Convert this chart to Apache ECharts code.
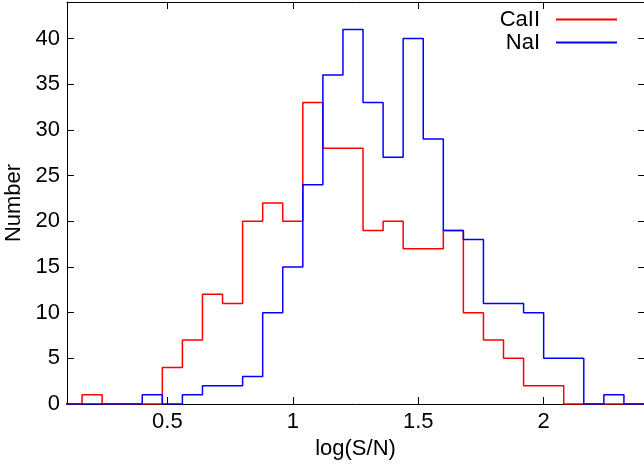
<!DOCTYPE html>
<html>
<head>
<meta charset="utf-8">
<script src="https://cdn.jsdelivr.net/npm/echarts@6/dist/echarts.min.js"></script>
<style>
  html, body { margin: 0; padding: 0; background: #fff; }
  #chart { width: 644px; height: 464px; }
</style>
</head>
<body>
<div id="chart"></div>
<script>
// Histogram bin edges in log(S/N) (30 edges -> 29 bins)
const binEdges = [0.08, 0.16, 0.24, 0.32, 0.40, 0.48, 0.56, 0.64, 0.72, 0.80,
                  0.88, 0.96, 1.04, 1.12, 1.20, 1.28, 1.36, 1.44, 1.52, 1.60,
                  1.68, 1.76, 1.84, 1.92, 2.00, 2.08, 2.16, 2.24, 2.32, 2.40];

// Counts per bin
const caIICounts = [0, 1, 0, 0, 0, 4, 7, 12, 11, 20,
                    22, 20, 33, 28, 28, 19, 20, 17, 17, 19,
                    10, 7, 5, 2, 2, 0, 0, 0, 0];
const naICounts  = [0, 0, 0, 0, 1, 0, 1, 2, 2, 3,
                    10, 15, 24, 36, 41, 33, 27, 40, 29, 19,
                    18, 11, 11, 10, 5, 5, 0, 1, 0];

const xTicks = [0.5, 1, 1.5, 2];
const yTicks = [0, 5, 10, 15, 20, 25, 30, 35, 40];

const seriesNames = ['CaII', 'NaI'];
const seriesColors = ['#ff0000', '#0000ff'];

// Step outline: each bin's left edge carries its count, the last right edge closes it
function stepPoints(counts) {
  const pts = counts.map((c, i) => [binEdges[i], c]);
  pts.push([binEdges[counts.length], counts[counts.length - 1]]);
  return pts;
}

const FONT = 'Liberation Sans, Arial, Helvetica, sans-serif';
const FS = 22;

const chart = echarts.init(document.getElementById('chart'), null, { renderer: 'canvas' });

const frameAxisLine = { show: true, onZero: false, lineStyle: { color: '#000', width: 1 } };
const tickStyle = { inside: true, length: 7, lineStyle: { color: '#000', width: 1 } };

chart.setOption({
  animation: false,
  backgroundColor: '#fff',
  grid: { left: 67, right: 0, top: 2, bottom: 60, containLabel: false, outerBoundsMode: 'none' },
  legend: {
    orient: 'vertical',
    right: 27,
    top: 8,
    padding: 0,
    align: 'right',
    itemGap: 0,
    itemWidth: 61,
    itemHeight: 2,
    icon: 'rect',
    selectedMode: false,
    textStyle: { fontFamily: FONT, fontSize: FS, color: '#000', lineHeight: 23, padding: [0, 11, 0, 0] },
    data: seriesNames
  },
  xAxis: [
    {
      type: 'value', min: 0.1, max: 2.4, position: 'bottom',
      name: 'log(S/N)', nameLocation: 'middle', nameGap: 27,
      nameTextStyle: { fontFamily: FONT, fontSize: FS, color: '#000' },
      axisLine: frameAxisLine,
      axisTick: Object.assign({ customValues: xTicks }, tickStyle),
      axisLabel: { customValues: xTicks, margin: 7, fontFamily: FONT, fontSize: FS, color: '#000' },
      splitLine: { show: false }
    },
    {
      type: 'value', min: 0.1, max: 2.4, position: 'top',
      axisLine: frameAxisLine,
      axisTick: Object.assign({ customValues: xTicks }, tickStyle),
      axisLabel: { show: false },
      splitLine: { show: false }
    }
  ],
  yAxis: [
    {
      type: 'value', min: 0, max: 44, position: 'left',
      name: 'Number', nameLocation: 'middle', nameGap: 41, nameRotate: 90,
      nameTextStyle: { fontFamily: FONT, fontSize: FS, color: '#000' },
      axisLine: frameAxisLine,
      axisTick: Object.assign({ customValues: yTicks }, tickStyle),
      axisLabel: { customValues: yTicks, margin: 7, fontFamily: FONT, fontSize: FS, color: '#000' },
      splitLine: { show: false }
    },
    {
      // right frame edge sits just past the canvas; only its inward ticks show
      type: 'value', min: 0, max: 44, position: 'right',
      axisLine: { show: false },
      axisTick: { customValues: yTicks, inside: true, length: 6, lineStyle: { color: '#000', width: 1 } },
      axisLabel: { show: false },
      splitLine: { show: false }
    }
  ],
  series: seriesNames.map((name, k) => ({
    name: name,
    type: 'line',
    step: 'end',
    showSymbol: false,
    symbol: 'none',
    clip: true,
    xAxisIndex: 0,
    yAxisIndex: 0,
    color: seriesColors[k],
    lineStyle: { color: seriesColors[k], width: 1.5 },
    data: stepPoints(k === 0 ? caIICounts : naICounts),
    z: 2 + k
  }))
});
</script>
</body>
</html>
